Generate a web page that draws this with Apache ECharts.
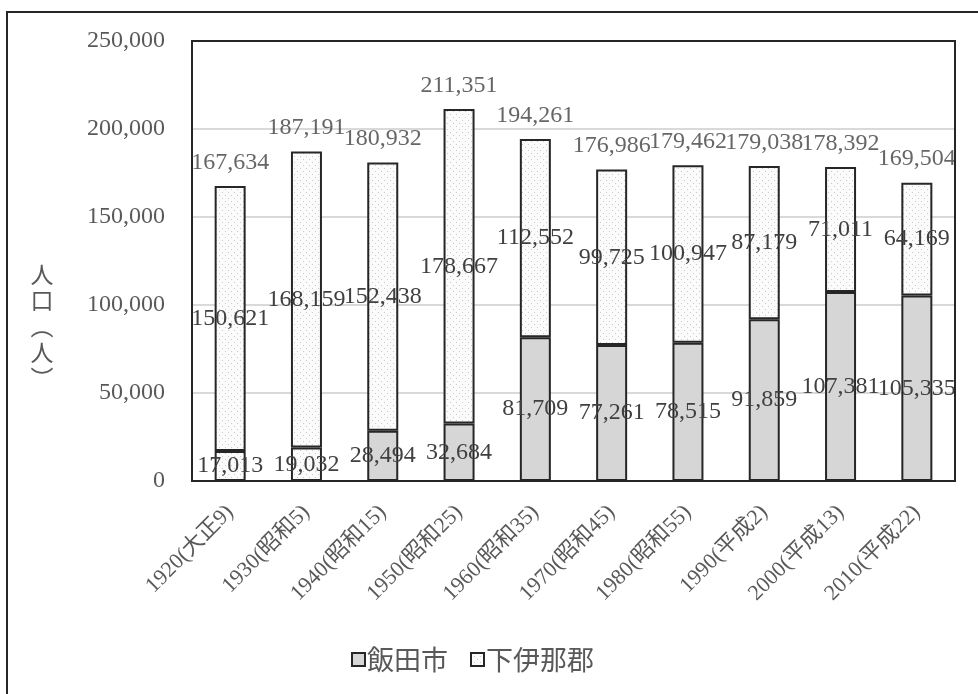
<!DOCTYPE html>
<html>
<head>
<meta charset="utf-8">
<script src="https://cdn.jsdelivr.net/npm/echarts@6/dist/echarts.min.js"></script>
<style>
  html, body { margin: 0; padding: 0; background: #fff; }
  #chart { width: 978px; height: 694px; }
</style>
</head>
<body>
<div id="chart"></div>
<script>
// Census years (with Japanese era names)
const years = ['1920(大正9)', '1930(昭和5)', '1940(昭和15)', '1950(昭和25)', '1960(昭和35)',
               '1970(昭和45)', '1980(昭和55)', '1990(平成2)', '2000(平成13)', '2010(平成22)'];
// Population of Iida city
const iida = [17013, 19032, 28494, 32684, 81709, 77261, 78515, 91859, 107381, 105335];
// Population of Shimoina district
const shimoina = [150621, 168159, 152438, 178667, 112552, 99725, 100947, 87179, 71011, 64169];
// Y axis ticks
const yMin = 0, yMax = 250000, yStep = 50000;

const totals = iida.map((v, i) => v + shimoina[i]);

// Dotted fill used for the district segments
function dotPattern() {
  const c = document.createElement('canvas');
  c.width = 6; c.height = 6;
  const g = c.getContext('2d');
  g.fillStyle = '#fbfbfb';
  g.fillRect(0, 0, 6, 6);
  g.fillStyle = '#cacaca';
  g.fillRect(0, 0, 1, 1);
  g.fillRect(3, 3, 1, 1);
  return c;
}
const dots = { image: dotPattern(), repeat: 'repeat' };

const numFont = '"Liberation Serif", "Noto Sans CJK JP", serif';
const cjkFont = '"Noto Sans CJK JP", sans-serif';
const fmt = v => v.toLocaleString('en-US');

const chart = echarts.init(document.getElementById('chart'), null, { renderer: 'canvas' });

const valueLabel = {
  show: true,
  position: 'inside',
  color: '#404040',
  fontFamily: numFont,
  fontSize: 24,
  formatter: p => fmt(p.value)
};

chart.setOption({
  animation: false,
  backgroundColor: '#ffffff',
  graphic: [
    {
      type: 'rect',
      shape: { x: 7, y: 12, width: 1000, height: 720 },
      style: { fill: 'none', stroke: '#262626', lineWidth: 2 },
      silent: true
    },
    {
      type: 'rect',
      shape: { x: 192, y: 41, width: 763, height: 440 },
      style: { fill: 'none', stroke: '#262626', lineWidth: 2 },
      silent: true,
      z: 10
    }
  ],
  grid: { left: 192, top: 41, right: 23, bottom: 213, containLabel: false },
  legend: {
    left: 346,
    top: 641,
    itemWidth: 13,
    itemHeight: 13,
    itemGap: 22,
    icon: 'rect',
    textStyle: { color: '#595959', fontSize: 27, fontFamily: cjkFont, padding: [0, 0, 0, -3] },
    data: ['飯田市', '下伊那郡']
  },
  xAxis: {
    type: 'category',
    data: years,
    axisLine: { show: true, lineStyle: { color: '#bfbfbf', width: 2 } },
    axisTick: { show: false },
    axisLabel: {
      rotate: 45,
      interval: 0,
      margin: 28,
      color: '#595959',
      fontSize: 22,
      fontFamily: numFont
    }
  },
  yAxis: {
    type: 'value',
    min: yMin,
    max: yMax,
    interval: yStep,
    name: '人\n口\n︵\n人\n︶',
    nameLocation: 'middle',
    nameRotate: 0,
    nameGap: 150,
    nameTextStyle: {
      color: '#595959', fontSize: 23, lineHeight: 26, fontFamily: cjkFont,
      align: 'center', verticalAlign: 'top'
    },
    axisLine: { show: false },
    axisTick: { show: false },
    splitLine: { lineStyle: { color: '#d9d9d9', width: 2 } },
    axisLabel: {
      margin: 27,
      color: '#595959',
      fontSize: 24,
      fontFamily: numFont,
      formatter: v => fmt(v)
    }
  },
  series: [
    {
      name: '飯田市',
      type: 'bar',
      stack: 'pop',
      barWidth: 31,
      itemStyle: { color: '#d6d6d7', borderColor: '#262626', borderWidth: 2 },
      label: valueLabel,
      data: iida.map((v, i) => (i < 2 ? { value: v, itemStyle: { color: dots } } : v))
    },
    {
      name: '下伊那郡',
      type: 'bar',
      stack: 'pop',
      barWidth: 31,
      itemStyle: { color: dots, borderColor: '#262626', borderWidth: 2 },
      label: valueLabel,
      data: shimoina
    },
    {
      name: '合計',
      type: 'scatter',
      symbolSize: 1,
      itemStyle: { color: 'rgba(0,0,0,0)' },
      label: {
        show: true,
        position: 'top',
        distance: 11,
        color: '#404040',
        fontFamily: numFont,
        fontSize: 24,
        formatter: p => fmt(p.value)
      },
      data: totals,
      z: 5
    }
  ]
});
</script>
</body>
</html>
